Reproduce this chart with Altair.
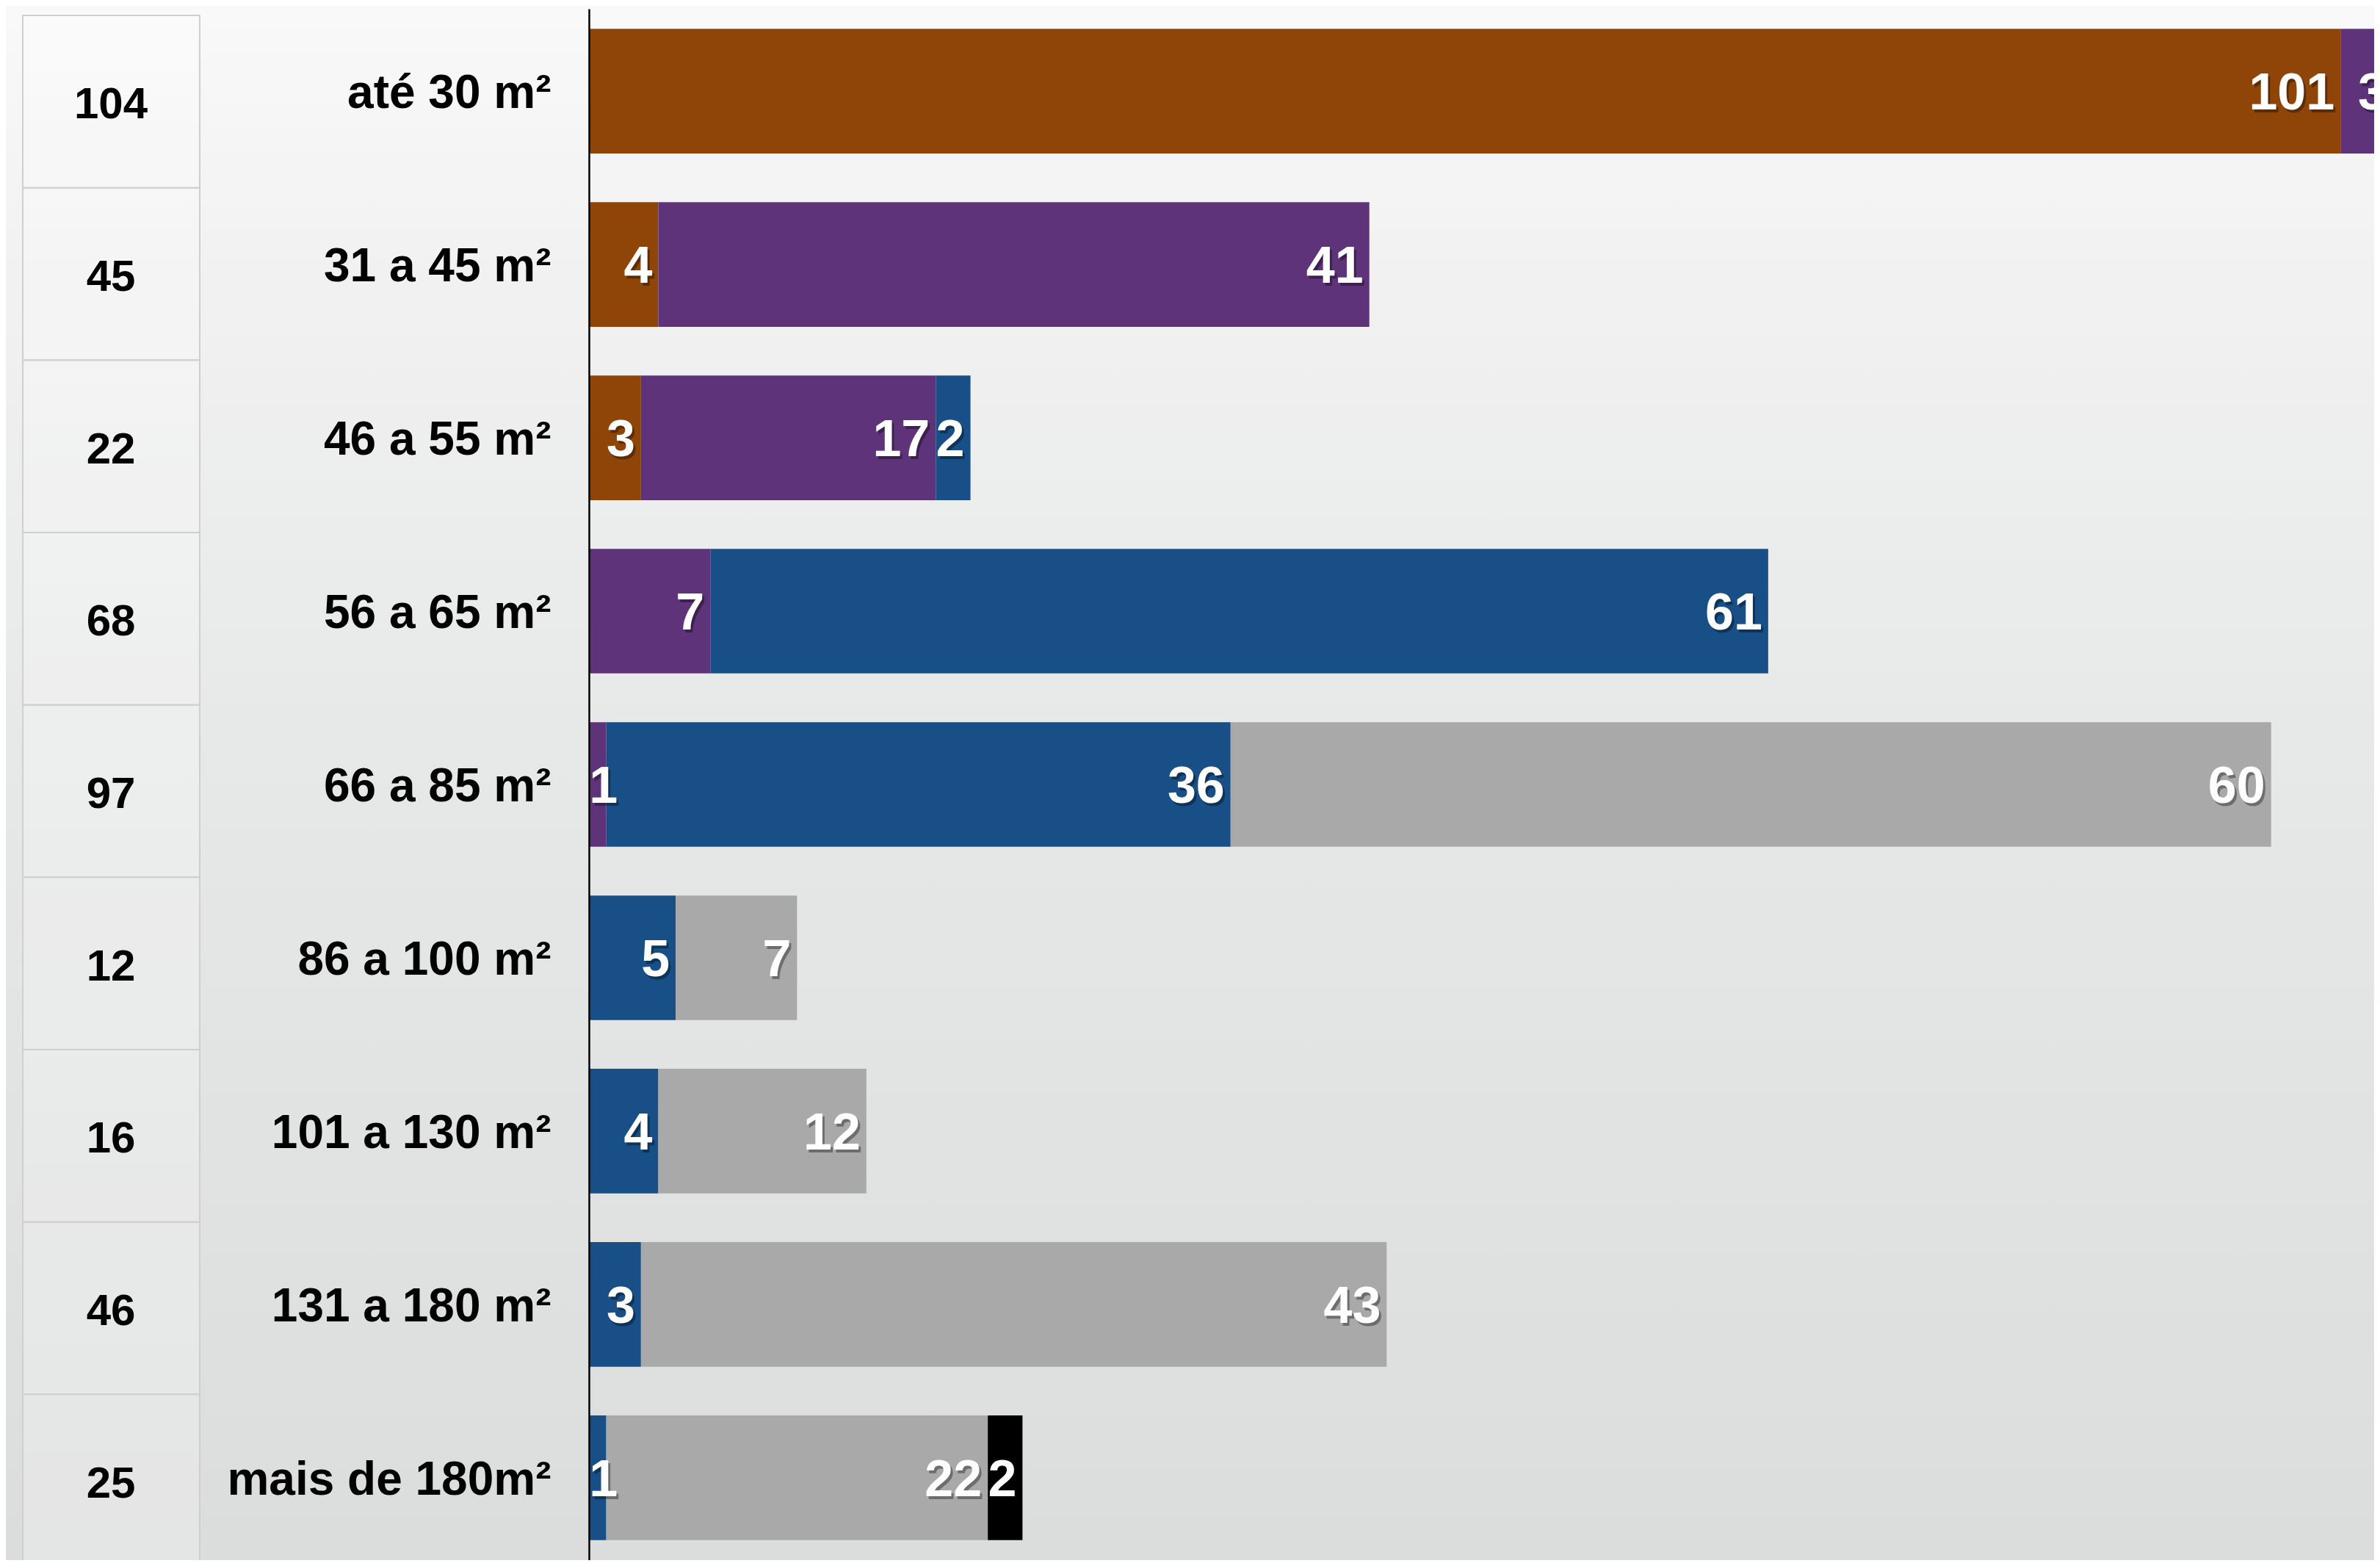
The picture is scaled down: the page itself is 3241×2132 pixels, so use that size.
import altair as alt
import pandas as pd

# ---- data ----
categories = ["até 30 m²", "31 a 45 m²", "46 a 55 m²", "56 a 65 m²", "66 a 85 m²",
              "86 a 100 m²", "101 a 130 m²", "131 a 180 m²", "mais de 180m²"]
totals = [104, 45, 22, 68, 97, 12, 16, 46, 25]

series_names = ["série 1", "série 2", "série 3", "série 4", "série 5"]
serie1 = [101, 4, 3, 0, 0, 0, 0, 0, 0]
serie2 = [3, 41, 17, 7, 1, 0, 0, 0, 0]
serie3 = [0, 0, 2, 61, 36, 5, 4, 3, 1]
serie4 = [0, 0, 0, 0, 60, 7, 12, 43, 22]
serie5 = [0, 0, 0, 0, 0, 0, 0, 0, 2]
series_colors = ["#8F4507", "#5E337A", "#174F86", "#A8A9A8", "#000000"]

series_values = [serie1, serie2, serie3, serie4, serie5]
rows = []
for i, c in enumerate(categories):
    for s, name in enumerate(series_names):
        v = series_values[s][i]
        if v > 0:
            rows.append({"cat": c, "serie": name, "ord": s, "value": v})
df = pd.DataFrame(rows)
tdf = pd.DataFrame({"cat": categories, "total": totals})

FONT = "Liberation Sans, Helvetica, Arial, sans-serif"
W, H = 2431, 2112

# ---- background ----
grad = alt.LinearGradient(
    gradient="linear", x1=0, y1=0, x2=0, y2=1,
    stops=[alt.GradientStop(color="#f9f9f9", offset=0),
           alt.GradientStop(color="#f2f2f2", offset=0.15),
           alt.GradientStop(color="#e6e7e7", offset=0.5),
           alt.GradientStop(color="#dbdcdc", offset=1)])
bg = alt.Chart(pd.DataFrame({"a": [0]})).mark_rect(color=grad).encode(
    x=alt.value(-794), x2=alt.value(W), y=alt.value(-4), y2=alt.value(H))

# ---- table of totals ----
ty = alt.Y("cat:N", sort=categories,
           scale=alt.Scale(paddingInner=0, paddingOuter=0), axis=None)
cells = alt.Chart(tdf).mark_rect(
    fill="white", fillOpacity=0.25, stroke="#cfcfcf", strokeWidth=2,
    yOffset=9, y2Offset=9).encode(
    x=alt.value(-771), x2=alt.value(-530), y=ty)
ttext = alt.Chart(tdf).mark_text(
    font=FONT, fontSize=60, fontWeight="bold", color="black",
    baseline="middle", dy=14).encode(
    x=alt.value(-651), y=ty, text="total:Q")
table = alt.layer(cells, ttext)

# ---- stacked bars ----
y_enc = alt.Y("cat:N", sort=categories,
              scale=alt.Scale(paddingInner=0.281, paddingOuter=0.116),
              axis=alt.Axis(title=None, ticks=False, grid=False,
                            domainColor="black", domainWidth=2.5,
                            labelFont=FONT, labelFontSize=64,
                            labelFontWeight="bold", labelColor="black",
                            labelPadding=52, labelLimit=1500,
                            labelOffset=4, zindex=1))
base = alt.Chart(df).transform_stack(
    stack="value", as_=["x0", "x1"], groupby=["cat"],
    sort=[alt.SortField("ord", "ascending")]
).transform_calculate(lx="max(datum.x1, datum.x0 + 2.0)")

xs = alt.Scale(domain=[0, 102.94], nice=False, zero=True)
bars = base.mark_bar(clip=True).encode(
    x=alt.X("x0:Q", scale=xs, axis=None), x2="x1:Q", y=y_enc,
    color=alt.Color("serie:N", scale=alt.Scale(domain=series_names, range=series_colors),
                    legend=None))
shadow = base.mark_text(
    font=FONT, fontSize=70, fontWeight="bold", color="black", opacity=0.35,
    align="right", baseline="alphabetic", dx=-5, dy=29, clip=True).encode(
    x=alt.X("lx:Q", scale=xs, axis=None), y=y_enc, text="value:Q")
labels = base.mark_text(
    font=FONT, fontSize=70, fontWeight="bold", color="white",
    align="right", baseline="alphabetic", dx=-8, dy=25, clip=True).encode(
    x=alt.X("lx:Q", scale=xs, axis=None), y=y_enc, text="value:Q")
bargroup = alt.layer(bars, shadow, labels)

chart = alt.layer(bg, table, bargroup).resolve_scale(y="independent").properties(
    width=W, height=H,
    padding={"left": 794, "top": 4, "right": 0, "bottom": 0},
    autosize=alt.AutoSizeParams(type="none"),
    background="#f8f8f8",
).configure_view(strokeWidth=0)

chart.save("out.html", embed_options={"renderer": "svg", "actions": False})
